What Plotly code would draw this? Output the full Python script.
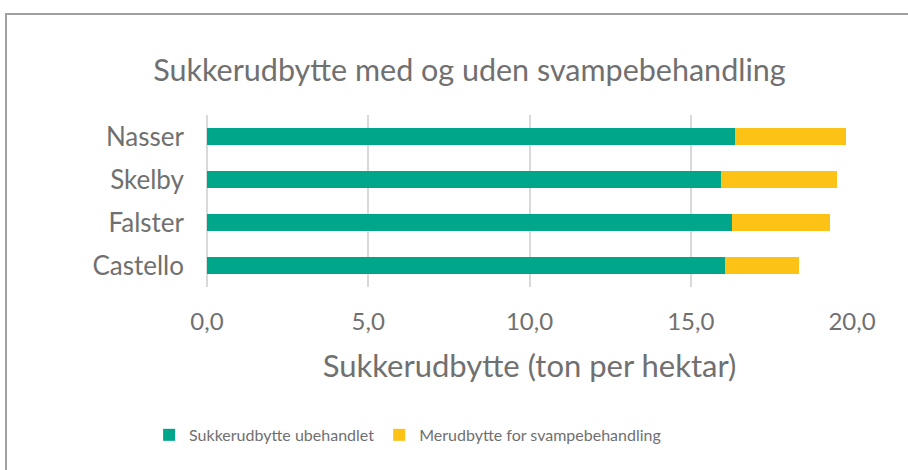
import plotly.graph_objects as go

categories = ["Castello", "Falster", "Skelby", "Nasser"]
untreated = [16.06, 16.29, 15.93, 16.38]
extra = [2.29, 3.04, 3.60, 3.42]
series_names = ["Sukkerudbytte ubehandlet", "Merudbytte for svampebehandling"]
tick_vals = [0, 5, 10, 15, 20]

FONT = "Lato"
GRAY = "#707070"

fig = go.Figure()
fig.add_trace(go.Bar(y=categories, x=untreated, orientation="h", name=series_names[0],
                     marker=dict(color="#00A68A", line=dict(width=0))))
fig.add_trace(go.Bar(y=categories, x=extra, orientation="h", name=series_names[1],
                     marker=dict(color="#FCC216", line=dict(width=0))))

fig.update_layout(
    barmode="stack",
    bargap=0.6,
    width=908, height=470,
    margin=dict(l=207, r=56, t=115, b=183),
    paper_bgcolor="white", plot_bgcolor="white",
    separators=",.",
    font=dict(family=FONT, color=GRAY),
    title=dict(text="Sukkerudbytte med og uden svampebehandling", x=0.517, xanchor="center",
               y=0.851, yanchor="middle", font=dict(size=30.5, color=GRAY, family=FONT)),
    xaxis=dict(range=[0, 20], tickvals=tick_vals, tickformat=".1f", showgrid=True,
               gridcolor="#d9d9d9", gridwidth=1.5, zeroline=True, zerolinecolor="#d9d9d9",
               zerolinewidth=1.5, showline=False, ticks="", tickfont=dict(size=24, color=GRAY),
               ticklabelstandoff=18,
               title=dict(text="Sukkerudbytte (ton per hektar)", font=dict(size=31, color=GRAY), standoff=21)),
    yaxis=dict(showgrid=False, showline=False, ticks="", tickfont=dict(size=26, color=GRAY),
               ticklabelstandoff=22),
    legend=dict(orientation="h", x=0.311, xanchor="center", y=-0.86, yanchor="middle",
                font=dict(size=16, color=GRAY), itemwidth=30, traceorder="normal"),
    shapes=[dict(type="rect", xref="paper", yref="paper", x0=-0.3116, x1=1.3,
                 y0=-1.3, y1=1.587, line=dict(color="#A0A0A0", width=2), fillcolor="rgba(0,0,0,0)",
                 layer="below")],
)

fig.write_html("out.html", config={"displayModeBar": False},
               post_script="document.body.style.margin='0';")
